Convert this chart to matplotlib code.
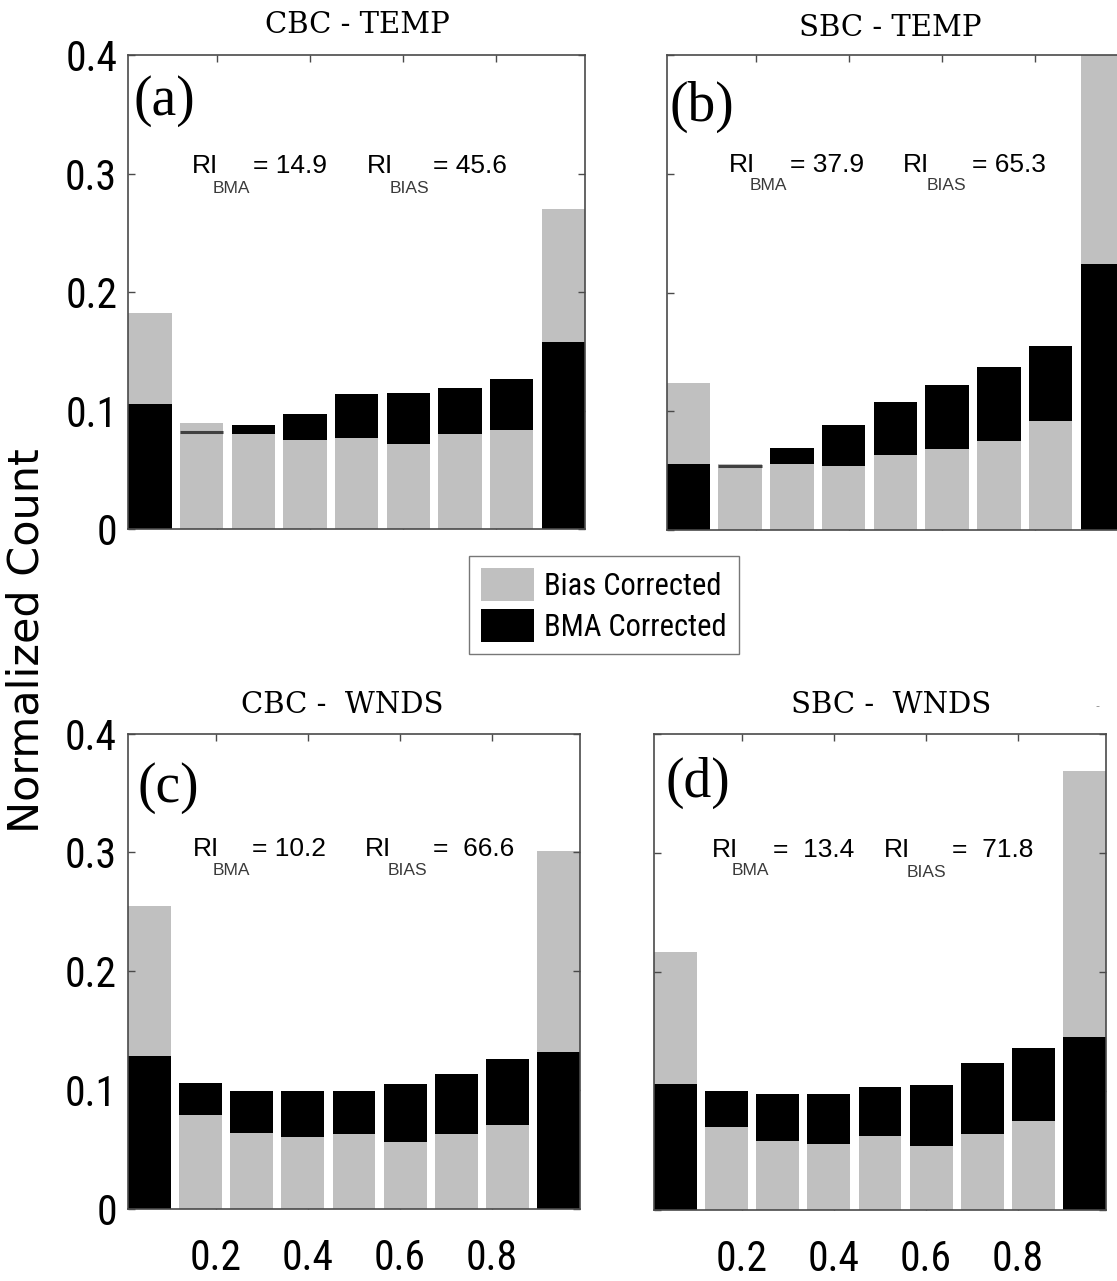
import matplotlib
matplotlib.use('Agg')
import matplotlib.pyplot as plt
import matplotlib.font_manager as fm
from matplotlib.font_manager import FontProperties
import numpy as np

W, H = 1117, 1281

# ---------------- data ----------------
n_bins = 9
a_bias = [0.182, 0.090, 0.080, 0.075, 0.077, 0.072, 0.080, 0.084, 0.270]
a_bma = [0.106, 0.082, 0.088, 0.097, 0.114, 0.115, 0.119, 0.127, 0.158]
b_bias = [0.124, 0.056, 0.056, 0.0535, 0.063, 0.068, 0.075, 0.092, 0.42]
b_bma = [0.056, 0.0535, 0.069, 0.0885, 0.108, 0.122, 0.137, 0.155, 0.224]
c_bias = [0.255, 0.079, 0.064, 0.061, 0.063, 0.056, 0.063, 0.071, 0.301]
c_bma = [0.129, 0.106, 0.099, 0.099, 0.099, 0.105, 0.114, 0.126, 0.132]
d_bias = [0.217, 0.070, 0.058, 0.055, 0.062, 0.054, 0.0636, 0.075, 0.369]
d_bma = [0.1055, 0.100, 0.097, 0.097, 0.103, 0.105, 0.1235, 0.136, 0.1454]

titles = ['CBC - TEMP', 'SBC - TEMP', 'CBC -  WNDS', 'SBC -  WNDS']
panel_labels = ['(a)', '(b)', '(c)', '(d)']
ri_bma = ['= 14.9', '= 37.9', '= 10.2', '=  13.4']
ri_bias = ['= 45.6', '= 65.3', '=  66.6', '=  71.8']
yticks = [0, 0.1, 0.2, 0.3, 0.4]
ytick_labels = ['0', '0.1', '0.2', '0.3', '0.4']
xticks = [0.2, 0.4, 0.6, 0.8]
xtick_labels = ['0.2', '0.4', '0.6', '0.8']
legend_labels = ['Bias Corrected', 'BMA Corrected']

GRAY = '#c0c0c0'
BLACK = '#000000'
SPINE = '#4a4a4a'

# look for a condensed sans font (MATLAB-style narrow digits)
cond = None
pref = ['Liberation Sans Narrow', 'Arial Narrow', 'Roboto Condensed', 'Open Sans Condensed',
        'Noto Sans', 'Noto Sans Display', 'DejaVu Sans', 'Open Sans']
cands = []
for f in fm.fontManager.ttflist:
    nm = f.name
    st = str(f.stretch).lower()
    is_cond = ('narrow' in nm.lower() or 'condensed' in nm.lower()
               or st in ('condensed', 'semi-condensed', '500', '600')
               or 'Condensed' in f.fname or 'Narrow' in f.fname)
    if is_cond and f.style == 'normal' and 'Extra' not in f.fname and 'Ultra' not in f.fname \
            and f.weight in (400, 'normal', 'regular'):
        cands.append(f)
if cands:
    def rank(f):
        for i, p in enumerate(pref):
            if f.name.startswith(p):
                return i
        return 99
    cands.sort(key=rank)
    cond = cands[0].fname

if cond:
    def NFP(size):
        return FontProperties(fname=cond, size=size)
    tick_size, leg_size = 30, 22
else:
    def NFP(size):
        return FontProperties(family='Liberation Sans', size=size)
    tick_size, leg_size = 27, 20

SANS = 'Liberation Sans'
SERIF_T = 'DejaVu Serif'
SERIF_L = 'Liberation Serif'

fig = plt.figure(figsize=(W / 100, H / 100), dpi=100)


def fx(x):
    return x / W


def fy(y):
    return 1 - y / H


# axes boxes in pixels: left, right, top, bottom
boxes = [(128.3, 585, 55, 529.3),
         (666.7, 1124, 55, 530),
         (128, 580, 733.6, 1209),
         (654, 1106, 733.6, 1210)]
data = [(a_bias, a_bma), (b_bias, b_bma), (c_bias, c_bma), (d_bias, d_bma)]

centers = (np.arange(n_bins) + 0.5) / n_bins
width = 0.093
bars_for_legend = None
for k, ((l, r, t, b), (bias, bma)) in enumerate(zip(boxes, data)):
    ax = fig.add_axes([fx(l), fy(b), (r - l) / W, (b - t) / H])
    gb = ax.bar(centers, bias, width=width, color=GRAY, linewidth=0, zorder=1)
    kb = ax.bar(centers, bma, width=width, color=BLACK, linewidth=0, zorder=2)
    # interior bins: bias-corrected bar drawn in front of BMA bar
    for i in range(1, n_bins - 1):
        gb.patches[i].set_zorder(3)
        if bma[i] < bias[i]:
            ax.hlines(bma[i], centers[i] - width / 2, centers[i] + width / 2,
                      color='#404040', lw=2.2, zorder=4)
    if k == 0:
        bars_for_legend = (gb, kb)
    ax.set_xlim(centers[0] - width / 2, centers[-1] + width / 2)
    ax.set_ylim(0, 0.4)
    ax.set_yticks(yticks)
    ax.set_xticks(xticks)
    ax.tick_params(direction='in', length=5, width=1, color=SPINE,
                   top=True, right=True, bottom=True, left=True)
    if k in (0, 2):
        ax.set_yticklabels(ytick_labels, fontproperties=NFP(tick_size))
        ax.tick_params(axis='y', pad=8)
    else:
        ax.set_yticklabels([])
    if k in (2, 3):
        ax.set_xticklabels(xtick_labels, fontproperties=NFP(tick_size))
        ax.tick_params(axis='x', pad=21)
    else:
        ax.set_xticklabels([])
    for s in ax.spines.values():
        s.set_color(SPINE)
        s.set_linewidth(1.2)
        s.set_zorder(5)

# titles
title_pos = [(357, 33), (890, 36), (342, 713), (891, 713)]
for txt, (x, y) in zip(titles, title_pos):
    fig.text(fx(x), fy(y), txt, family=SERIF_T, fontsize=21, ha='center', va='baseline')
fig.text(fx(1097), fy(706), '-', fontsize=8, color='#888888', ha='center', va='center')

# panel labels
plab_pos = [(133, 101), (670, 107), (138, 788), (665, 783)]
for txt, (x, y) in zip(panel_labels, plab_pos):
    fig.text(fx(x), fy(y), txt, family=SERIF_L, fontsize=40, ha='left', va='center')

# RI annotations
ri_pos = [(192, 173, 213, 193, 253, 367, 390, 193, 433),
          (729, 172, 750, 190, 790, 903, 927, 190, 972),
          (193, 856, 213, 875, 252, 365, 388, 875, 433),
          (712, 857, 732, 875, 773, 884, 907, 877, 952)]
for k, p in enumerate(ri_pos):
    x1, yb, xs1, ys1, xe1, x2, xs2, ys2, xe2 = p
    fig.text(fx(x1), fy(yb), 'RI', family=SANS, fontsize=19, va='baseline')
    fig.text(fx(xs1), fy(ys1), 'BMA', family=SANS, fontsize=12.5, color='#3a3a3a', va='baseline')
    fig.text(fx(xe1), fy(yb), ri_bma[k], family=SANS, fontsize=19, va='baseline')
    fig.text(fx(x2), fy(yb), 'RI', family=SANS, fontsize=19, va='baseline')
    fig.text(fx(xs2), fy(ys2), 'BIAS', family=SANS, fontsize=12.5, color='#3a3a3a', va='baseline')
    fig.text(fx(xe2), fy(yb), ri_bias[k], family=SANS, fontsize=19, va='baseline')

# y label
fig.text(fx(27), fy(641), 'Normalized Count', family='DejaVu Sans', fontsize=31,
         rotation=90, ha='center', va='center')

# legend
leg = fig.legend(bars_for_legend, legend_labels, loc='center',
                 bbox_to_anchor=(fx(604), fy(605)),
                 prop=NFP(leg_size),
                 fancybox=False, frameon=True, edgecolor='#555555',
                 handlelength=1.66 * 23 / leg_size, handleheight=1.22 * 23 / leg_size,
                 labelspacing=0.28, handletextpad=0.31, borderpad=0.4, borderaxespad=0)
leg.get_frame().set_linewidth(1.0)

fig.savefig('out.png', dpi=100)
